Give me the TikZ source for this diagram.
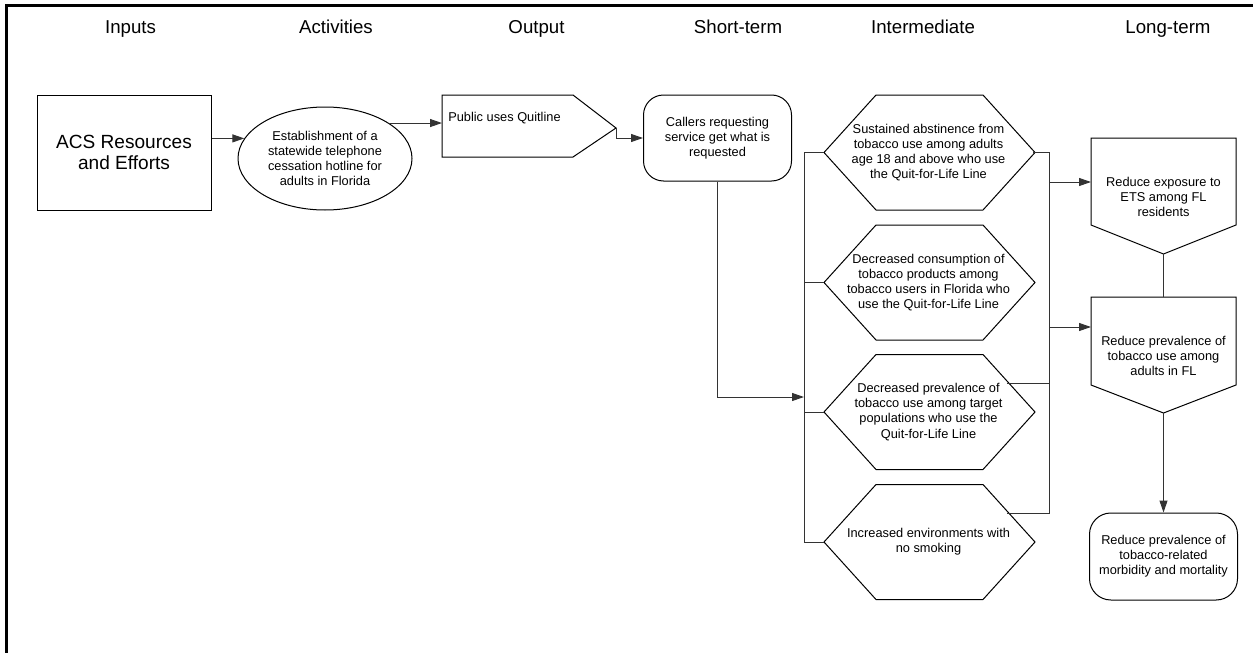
\documentclass[tikz,border=0pt]{standalone}
\usepackage{fontspec}
\setmainfont{Liberation Sans}
\usetikzlibrary{shapes.geometric,arrows.meta,calc}
\newcommand{\hexpath}[1]{\draw[shp] ($(#1)+(-104.5,0)$) -- ++(52,-57.5) -- ++(107,0) -- ++(52,57.5) -- ++(-52,57.5) -- ++(-107,0) -- cycle;}
\begin{document}
\begin{tikzpicture}[x=0.75pt,y=-0.75pt,
  shp/.style={draw=black, line width=0.75pt},
  txt/.style={font=\fontsize{9.6}{11.3}\selectfont, align=center, inner sep=0pt},
  hdr/.style={font=\fontsize{14}{16}\selectfont, inner sep=0pt, anchor=base},
  conn/.style={draw=black!80, line width=0.75pt},
  arr/.style={conn, -{Triangle[length=9pt,width=6pt]}}]
\useasboundingbox (0,0) rectangle (1253,653);
% frame
\draw[line width=2.25pt] (6.5,653) -- (6.5,5) -- (1253,5);
% headers
\node[hdr] (hin) at (130.5,33) {Inputs};
\node[hdr] (hact) at (336,33) {Activities};
\node[hdr] (hout) at (536.5,33) {Output};
\node[hdr] (hst) at (738,33) {Short-term};
\node[hdr] (hint) at (923,33) {Intermediate};
\node[hdr] (hlt) at (1168,33) {Long-term};
% inputs
\node[shp, minimum width=130.5pt, minimum height=86.25pt, inner sep=0pt, font=\fontsize{14.3}{15.75}\selectfont, align=center] (acs) at (124,152.5) {ACS Resources\\and Efforts};
% activities
\node[ellipse, shp, minimum width=130.5pt, minimum height=77.25pt, txt] (ell) at (325,158.5) {Establishment of a\\statewide telephone\\cessation hotline for\\adults in Florida};
% output
\draw[shp] (442,95) -- (573,95) -- (616,128) -- (573,157) -- (442,157) -- cycle;
\node[txt, anchor=west] (pub) at (448,118) {Public uses Quitline};
\coordinate (pubw) at (442,125);
\coordinate (pubtip) at (616,128);
% short-term
\node[shp, rounded corners=15pt, minimum width=111pt, minimum height=64.5pt, txt] (cal) at (717.5,138) {Callers requesting\\service get what is\\requested};
% intermediate hexagons
\node[txt] (h1) at (928.5,152.5) {Sustained abstinence from\\tobacco use among adults\\age 18 and above who use\\the Quit-for-Life Line};
\node[txt] (h2) at (928.5,282.5) {Decreased consumption of\\tobacco products among\\tobacco users in Florida who\\use the Quit-for-Life Line};
\node[txt] (h3) at (928.5,412) {Decreased prevalence of\\tobacco use among target\\populations who use the\\Quit-for-Life Line};
\node[txt] (h4) at (928.5,542) {Increased environments with\\no smoking};
\hexpath{h1}\hexpath{h2}\hexpath{h3}\hexpath{h4}
\foreach \h in {h1,h2,h3,h4}{
  \coordinate (\h w) at ($(\h)+(-104.5,0)$);
  \coordinate (\h e) at ($(\h)+(104.5,0)$);
  \coordinate (\h ne) at ($(\h)+(78.3,-29)$);
}
% long-term
\draw[shp] (1091,138) -- (1236,138) -- (1236,225) -- (1163.5,254) -- (1091,225) -- cycle;
\node[txt] (ets) at (1163.5,197) {Reduce exposure to\\ETS among FL\\residents};
\coordinate (etsw) at (1091,182);
\coordinate (etss) at (1163.5,254);
\draw[shp] (1091,297) -- (1236,297) -- (1236,385) -- (1163.5,413) -- (1091,385) -- cycle;
\node[txt] (prv) at (1163.5,356) {Reduce prevalence of\\tobacco use among\\adults in FL};
\coordinate (prvn) at (1163.5,297);
\coordinate (prvw) at (1091,327);
\coordinate (prvs) at (1163.5,413);
\node[shp, rounded corners=16pt, minimum width=111pt, minimum height=65.25pt, txt] (fin) at (1163.5,556.5) {Reduce prevalence of\\tobacco-related\\morbidity and mortality};
% connectors
\draw[arr] (acs.east |- ell.166) -- (ell.166);
\draw[arr] (ell.29) -- (ell.29 -| pubw);
\draw[arr] (pubtip) |- (cal.west);
\coordinate (lj) at (804,397);
\draw[arr] (cal.south) |- (lj);
\draw[conn] (h1w) -- (h1w -| lj) -- (h4w -| lj) -- (h4w);
\draw[conn] (h2w -| lj) -- (h2w);
\draw[conn] (h3w -| lj) -- (h3w);
\coordinate (rbx) at (1049,152.5);
\draw[conn] (h1e) -- (h1e -| rbx) -- (h4ne -| rbx) -- (h4ne);
\draw[conn] (h3ne) -- (h3ne -| rbx);
\draw[arr] (etsw -| rbx) -- (etsw);
\draw[arr] (prvw -| rbx) -- (prvw);
\draw[conn] (etss) -- (prvn);
\draw[arr] (prvs) -- (fin.north);
\end{tikzpicture}
\end{document}
